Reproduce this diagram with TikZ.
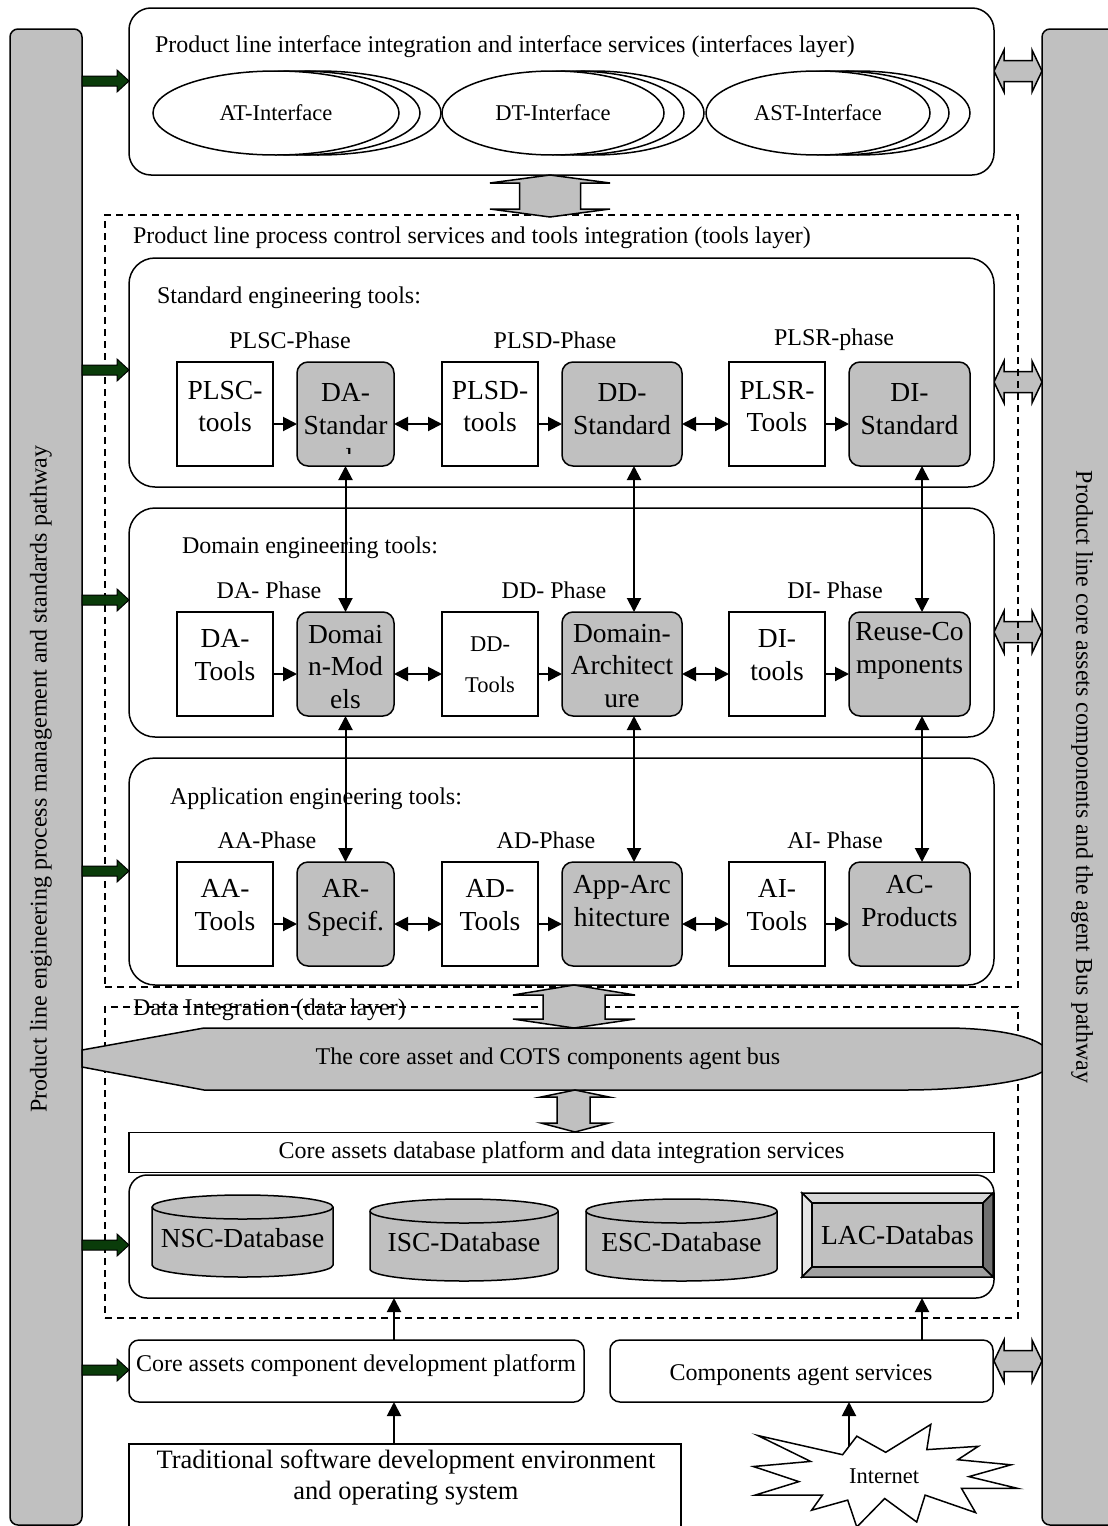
\documentclass[tikz,border=0pt]{standalone}
\usepackage{fontspec}
\setmainfont{Liberation Serif}
\usetikzlibrary{arrows.meta,shapes.geometric}
\definecolor{boxgray}{RGB}{192,192,192}
\definecolor{dkgreen}{RGB}{10,60,10}
\definecolor{bevtop}{RGB}{214,214,214}
\definecolor{bevleft}{RGB}{230,230,230}
\definecolor{bevright}{RGB}{112,112,112}
\definecolor{bevbot}{RGB}{160,160,160}
\tikzset{
  ln/.style={line width=1.5pt},
  f22/.style={font=\fontsize{22.5}{27}\selectfont},
  f24/.style={font=\fontsize{24}{28}\selectfont},
  f27/.style={font=\fontsize{27.5}{32.5}\selectfont},
  lbl/.style={inner sep=0pt, outer sep=0pt, align=center},
  layerbox/.style={ln, draw, fill=white, rounded corners=26pt, minimum width=865pt, minimum height=229pt, inner sep=0pt, outer sep=0pt},
  wbox/.style={ln, draw, fill=white, minimum width=96pt, minimum height=104pt, inner sep=0pt, outer sep=0pt},
  gbox/.style={wbox, fill=boxgray, rounded corners=11pt},
  btxt/.style={lbl, f27},
  conn/.style={line width=2pt, -{Triangle[length=14pt,width=14pt]}},
  dconn/.style={line width=2pt, {Triangle[length=14pt,width=14pt]}-{Triangle[length=14pt,width=14pt]}},
  dashbox/.style={ln, draw, dash pattern=on 7pt off 5pt, inner sep=0pt, outer sep=0pt},
  ibox/.style={ln, draw, fill=white, ellipse, inner sep=0pt, outer sep=0pt, minimum width=#1, minimum height=84pt, f22},
  hollow/.style={ln, draw=black, fill=boxgray},
  garrow/.pic={\filldraw[fill=dkgreen, draw=black, line width=1pt] (0,-5) -- (35,-5) -- (35,-11) -- (47,0) -- (35,11) -- (35,5) -- (0,5) -- cycle;},
  hdarrow/.pic={\filldraw[hollow] (0,0) -- (10,-21) -- (10,-10.5) -- (38,-10.5) -- (38,-21) -- (48,0) -- (38,21) -- (38,10.5) -- (10,10.5) -- (10,21) -- cycle;},
}
\begin{document}
\begin{tikzpicture}[x=1pt,y=-1pt]
\useasboundingbox (0,0) rectangle (1108,1526);
\clip (0,0) rectangle (1108,1526);

% right-side double arrows (under the dashed frames)
\foreach \yy in {71,382,632,1361} \pic at (994,\yy) {hdarrow};

% dashed layer frames
\node[dashbox, minimum width=913pt, minimum height=772pt] (toolsL) at (561.5,601) {};
\node[dashbox, minimum width=913pt, minimum height=311pt] (dataL) at (561.5,1162.5) {};
\node[lbl,f24] (toolsT) [anchor=west] at (133,238) {Product line process control services and tools integration (tools layer)};
\node[lbl,f24] (dataT) at (269.5,1010) {Data Integration (data layer)};

% side bars
\node[ln, draw, fill=boxgray, rounded corners=8pt, minimum width=72pt, minimum height=1496pt, anchor=north west, inner sep=0pt, outer sep=0pt] (leftbar) at (10,29) {};
\node[ln, draw, fill=boxgray, rounded corners=8pt, minimum width=80pt, minimum height=1496pt, anchor=north west, inner sep=0pt, outer sep=0pt] (rightbar) at (1042,29) {};
\node[lbl,f24,rotate=90] (leftT) at (41,779) {Product line engineering process management and standards pathway};
\node[lbl,f24,rotate=-90] (rightT) at (1082,777) {Product line core assets components and the agent Bus pathway};

% interfaces layer
\node[ln, draw, fill=white, rounded corners=22pt, minimum width=865pt, minimum height=167pt, inner sep=0pt, outer sep=0pt] (ifbox) at (561.5,91.5) {};
\node[lbl,f24,anchor=west] (ifT) at (155,47) {Product line interface integration and interface services (interfaces layer)};
\node[ibox=246pt] (at3) at (318,113) {};
\node[ibox=246pt] (at2) at (297,113) {};
\node[ibox=246pt] (at1) at (276,113) {AT-Interface};
\node[ibox=222pt] (dt3) at (593,113) {};
\node[ibox=222pt] (dt2) at (573,113) {};
\node[ibox=222pt] (dt1) at (553,113) {DT-Interface};
\node[ibox=224pt] (ast3) at (858,113) {};
\node[ibox=224pt] (ast2) at (837,113) {};
\node[ibox=224pt] (ast1) at (818,113) {AST-Interface};

% hollow arrow interfaces <-> tools
\filldraw[hollow] (550,175) -- (610,183) -- (580.5,183) -- (580.5,209) -- (610,209) -- (550,217) -- (490,209) -- (519.5,209) -- (519.5,183) -- (490,183) -- cycle;

% tool layers
\node[layerbox] (stdL) at (561.5,372.5) {};
\node[layerbox] (domL) at (561.5,622.5) {};
\node[layerbox, minimum height=227pt] (appL) at (561.5,871.5) {};
\node[lbl,f24,anchor=west] (stdT) at (157,298) {Standard engineering tools:};
\node[lbl,f24,anchor=west] (domT) at (182,548) {Domain engineering tools:};
\node[lbl,f24,anchor=west] (appT) at (170,799) {Application engineering tools:};

% phase labels
\node[lbl,f24] (p1) at (290,340) {PLSC-Phase};
\node[lbl,f24] (p2) at (555,340) {PLSD-Phase};
\node[lbl,f24] (p3) at (834,340) {PLSR-phase};
\node[lbl,f24] (p4) at (269,590) {DA- Phase};
\node[lbl,f24] (p5) at (554,590) {DD- Phase};
\node[lbl,f24] (p6) at (835,590) {DI- Phase};
\node[lbl,f24] (p7) at (267,840) {AA-Phase};
\node[lbl,f24] (p8) at (546,840) {AD-Phase};
\node[lbl,f24] (p9) at (835,840) {AI- Phase};

% standard row
\node[wbox] (plsc) at (225,414) {};
\node[btxt] (plscT) at (225,406.5) {PLSC-\\tools};
\node[gbox, minimum width=97pt] (das) at (345.5,414) {};
\node[btxt] (dasT) at (345.5,409) {DA-\\Standar};
\begin{scope}
\clip (297,362) rectangle (394,453);
\node[lbl,f27,anchor=base] (dasD) at (345.5,467) {d};
\end{scope}
\node[wbox] (plsd) at (490,414) {};
\node[btxt] (plsdT) at (490,406.5) {PLSD-\\tools};
\node[gbox, minimum width=120pt] (dds) at (622,414) {};
\node[btxt] (ddsT) at (622,409) {DD-\\Standard};
\node[wbox] (plsr) at (777,414) {};
\node[btxt] (plsrT) at (777,406.5) {PLSR-\\Tools};
\node[gbox, minimum width=121pt] (dis) at (909.5,414) {};
\node[btxt] (disT) at (909.5,409) {DI-\\Standard};

% domain row
\node[wbox] (dat) at (225,664) {};
\node[btxt] (datT) at (225,655) {DA-\\Tools};
\node[gbox, minimum width=97pt] (dm) at (345.5,664) {};
\node[btxt] (dmT) at (345.5,667) {Domai\\n-Mod\\els};
\node[wbox] (ddt) at (490,664) {};
\node[lbl,f22] (ddtT) at (490,665) {DD-\\[14pt]Tools};
\node[gbox, minimum width=120pt] (darch) at (622,664) {};
\node[btxt] (darchT) at (622,666) {Domain-\\Architect\\ure};
\node[wbox] (dit) at (777,664) {};
\node[btxt] (ditT) at (777,655) {DI-\\tools};
\node[gbox, minimum width=121pt] (reuse) at (909.5,664) {};
\node[btxt] (reuseT) at (909.5,651) {Reuse-Co\\mponents};

% application row
\node[wbox] (aat) at (225,914) {};
\node[btxt] (aatT) at (225,905) {AA-\\Tools};
\node[gbox, minimum width=97pt] (ars) at (345.5,914) {};
\node[btxt] (arsT) at (345.5,908) {AR-\\Specif.};
\node[wbox] (adt) at (490,914) {};
\node[btxt] (adtT) at (490,905) {AD-\\Tools};
\node[gbox, minimum width=120pt] (aarch) at (622,914) {};
\node[btxt] (aarchT) at (622,901) {App-Arc\\hitecture};
\node[wbox] (ait) at (777,914) {};
\node[btxt] (aitT) at (777,905) {AI-\\Tools};
\node[gbox, minimum width=121pt] (acp) at (909.5,914) {};
\node[btxt] (acpT) at (909.5,901) {AC-\\Products};

% row connectors
\foreach \a/\b in {plsc/das, plsd/dds, plsr/dis, dat/dm, ddt/darch, dit/reuse, aat/ars, adt/aarch, ait/acp}
  \draw[conn] ([yshift=-10pt]\a.east) -- ([yshift=-10pt]\b.west);
\foreach \a/\b in {das/plsd, dds/plsr, dm/ddt, darch/dit, ars/adt, aarch/ait}
  \draw[dconn] ([yshift=-10pt]\a.east) -- ([yshift=-10pt]\b.west);

% vertical connectors
\draw[dconn] (das.south) -- (dm.north);
\draw[dconn] (dm.south) -- (ars.north);
\draw[dconn] ([xshift=12pt]dds.south) -- ([xshift=12pt]darch.north);
\draw[dconn] ([xshift=12pt]darch.south) -- ([xshift=12pt]aarch.north);
\draw[dconn] ([xshift=12.5pt]dis.south) -- ([xshift=12.5pt]reuse.north);
\draw[dconn] ([xshift=12.5pt]reuse.south) -- ([xshift=12.5pt]acp.north);

% hollow arrow tools <-> data
\filldraw[hollow] (574,985) -- (635,995) -- (605,995) -- (605,1019) -- (635,1019) -- (574,1028) -- (513,1019) -- (543,1019) -- (543,995) -- (513,995) -- cycle;

% agent bus
\filldraw[fill=boxgray, ln] (82,1050) -- (204,1028) -- (945,1028) .. controls (995,1028) and (1030,1036) .. (1042,1045) -- (1042,1072) .. controls (1025,1082) and (965,1090) .. (905,1090) -- (204,1090) -- (82,1067) -- cycle;
\node[lbl,f24] (busT) at (548,1059) {The core asset and COTS components agent bus};

% hollow arrow bus <-> database platform
\filldraw[hollow] (575,1090) -- (609,1097) -- (590,1097) -- (590,1123) -- (609,1123) -- (575,1132) -- (541,1123) -- (557,1123) -- (557,1097) -- (541,1097) -- cycle;

% database platform
\node[ln, draw, fill=white, minimum width=865pt, minimum height=40pt, inner sep=0pt, outer sep=0pt, f24] (dbplat) at (561.5,1152.5) {Core assets database platform and data integration services};
\node[ln, draw, fill=white, rounded corners=18pt, minimum width=865pt, minimum height=123pt, inner sep=0pt, outer sep=0pt] (dbc) at (561.5,1236.5) {};

% cylinders
\filldraw[fill=boxgray, ln] (152,1207) -- (152,1265) arc[start angle=180, end angle=360, x radius=90.5pt, y radius=12pt] -- (333,1207) arc[start angle=0, end angle=180, x radius=90.5pt, y radius=12pt] -- cycle;
\draw[ln] (152,1207) arc[start angle=180, end angle=360, x radius=90.5pt, y radius=12pt];
\node[lbl,f27] (nsc) at (242.5,1238) {NSC-Database};
\filldraw[fill=boxgray, ln] (370,1211) -- (370,1269) arc[start angle=180, end angle=360, x radius=94pt, y radius=12pt] -- (558,1211) arc[start angle=0, end angle=180, x radius=94pt, y radius=12pt] -- cycle;
\draw[ln] (370,1211) arc[start angle=180, end angle=360, x radius=94pt, y radius=12pt];
\node[lbl,f27] (isc) at (464,1242) {ISC-Database};
\filldraw[fill=boxgray, ln] (586,1211) -- (586,1269) arc[start angle=180, end angle=360, x radius=95.5pt, y radius=12pt] -- (777,1211) arc[start angle=0, end angle=180, x radius=95.5pt, y radius=12pt] -- cycle;
\draw[ln] (586,1211) arc[start angle=180, end angle=360, x radius=95.5pt, y radius=12pt];
\node[lbl,f27] (esc) at (681.5,1242) {ESC-Database};

% LAC bevel box
\filldraw[fill=bevtop, ln] (802,1193) -- (993,1193) -- (983,1203) -- (812,1203) -- cycle;
\filldraw[fill=bevleft, ln] (802,1193) -- (812,1203) -- (812,1267) -- (802,1277) -- cycle;
\filldraw[fill=bevright, ln] (993,1193) -- (993,1277) -- (983,1267) -- (983,1203) -- cycle;
\filldraw[fill=bevbot, ln] (802,1277) -- (993,1277) -- (983,1267) -- (812,1267) -- cycle;
\node[ln, draw, fill=boxgray, minimum width=171pt, minimum height=64pt, inner sep=0pt, outer sep=0pt, f27] (lac) at (897.5,1235) {LAC-Databas};

% bottom platforms
\node[ln, draw, fill=white, rounded corners=10pt, minimum width=455pt, minimum height=62pt, inner sep=0pt, outer sep=0pt] (core) at (356.5,1371) {};
\node[lbl,f24] (coreT) at (356,1366) {Core assets component development platform};
\node[ln, draw, fill=white, rounded corners=10pt, minimum width=383pt, minimum height=62pt, inner sep=0pt, outer sep=0pt] (cas) at (801.5,1371) {};
\node[lbl,f24] (casT) at (801,1375) {Components agent services};
\node[ln, draw, fill=white, minimum width=552pt, minimum height=86pt, inner sep=0pt, outer sep=0pt] (trad) at (405,1487) {};
\node[lbl, font=\fontsize{26.5}{31}\selectfont] (tradT) at (406,1477.5) {Traditional software development environment\\and operating system};

% internet starburst
\filldraw[fill=white, ln] (757.8,1435.5) -- (842.6,1454.7) -- (856.8,1436.2) -- (885.7,1452.3) -- (930.8,1424.4) -- (926.8,1449.6) -- (978.3,1446.3) -- (957.8,1459.7) -- (1011,1464.8) -- (968.9,1476.6) -- (1017.7,1488.4) -- (961.5,1488.4) -- (975.6,1512.6) -- (925.1,1495.1) -- (916.7,1522) -- (884.7,1498.5) -- (856.8,1527) -- (847.7,1500.1) -- (811.6,1510.2) -- (822.4,1495.1) -- (755.1,1495.1) -- (798.9,1481.6) -- (753.4,1466.5) -- (810.6,1461.4) -- cycle;
\node[lbl,f22] (inet) at (884,1476) {Internet};
\coordinate (inetTop) at (849,1446);

% bottom connectors
\coordinate (xa) at (394,0);
\coordinate (xb) at (922,0);
\draw[conn] (core.north -| xa) -- (dbc.south -| xa);
\draw[conn] (cas.north -| xb) -- (dbc.south -| xb);
\draw[conn] (trad.north -| xa) -- (core.south -| xa);
\draw[conn] (inetTop) -- (cas.south -| inetTop);

% green arrows from the left bar
\foreach \yy in {81,370,600,871,1245,1370} \pic at (82,\yy) {garrow};
\end{tikzpicture}
\end{document}
